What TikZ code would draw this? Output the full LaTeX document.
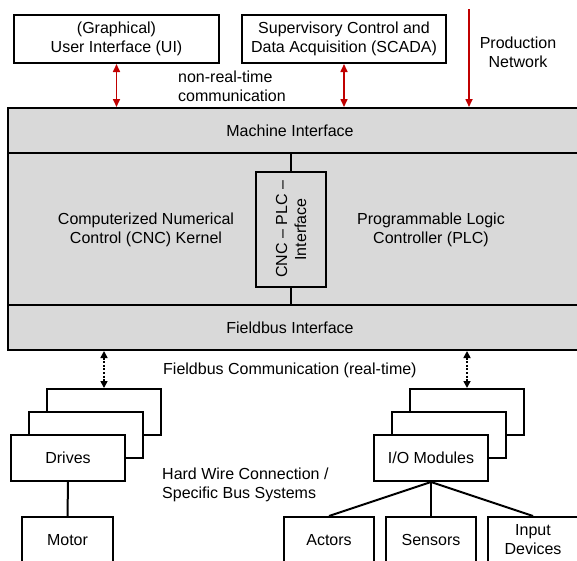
\documentclass[tikz,border=0pt]{standalone}
\usepackage{fontspec}
\setmainfont{Liberation Sans}
\usetikzlibrary{arrows.meta}
\definecolor{bandgray}{RGB}{217,217,217}
\definecolor{netred}{RGB}{192,0,0}
\begin{document}
\begin{tikzpicture}[x=1pt,y=-1pt,
  font=\fontsize{16}{19}\selectfont,
  redtip/.tip={Triangle[length=8pt,width=7pt]},
  bustip/.tip={Triangle[length=7pt,width=7pt]},
  box/.style={draw=black,line width=2pt,fill=white,inner sep=0pt,align=center},
  band/.style={draw=black,line width=2pt,fill=bandgray,inner sep=0pt},
  txt/.style={inner sep=0pt,align=center},
  redlink/.style={draw=netred,line width=1.6pt},
  buslink/.style={draw=black,line width=1.6pt,dash pattern=on 2pt off 1.6pt,bustip-bustip},
  wire/.style={draw=black,line width=2pt},
  stackbox/.style={box,minimum width=114pt,minimum height=46pt},
  fieldbox/.style={box,minimum width=90pt,minimum height=46pt}
]
\useasboundingbox (0,0) rectangle (577,560);

% upper level systems
\node[box,minimum width=205pt,minimum height=48pt] (ui) at (116.5,39) {(Graphical)\\User Interface (UI)};
\node[box,minimum width=204pt,minimum height=48pt] (scada) at (344,39) {Supervisory Control and\\Data Acquisition (SCADA)};
\coordinate (netin) at (469,9);

% control unit
\node[band,minimum width=582pt,minimum height=45pt] (mi) at (299,130.5) {};
\node[band,minimum width=582pt,minimum height=152pt] (core) at (299,229) {};
\node[band,minimum width=582pt,minimum height=45pt] (fb) at (299,327.5) {};
\node[txt] (mitext) at (290,130.5) {Machine Interface};
\node[txt] (fbtext) at (290,327.5) {Fieldbus Interface};
\node[txt] (cnc) at (146,230) {Computerized Numerical\\Control (CNC) Kernel};
\node[txt] (plc) at (431,230) {Programmable Logic\\Controller (PLC)};
\node[box,fill=bandgray,minimum width=70pt,minimum height=115pt] (cpi) at (291,229.5) {};
\node[txt,rotate=90] (cpitext) at (cpi.center) {CNC – PLC –\\Interface};
\draw[wire] (cpi.north) -- (cpi.north |- mi.south);
\draw[wire] (cpi.south) -- (cpi.south |- fb.north);

% non-real-time links
\draw[redlink,redtip-redtip] (ui.south) -- (ui.south |- mi.north);
\draw[redlink,redtip-redtip] (scada.south) -- (scada.south |- mi.north);
\draw[redlink,-redtip] (netin) -- (netin |- mi.north);
\node[txt,align=left,anchor=west] (nrt) at (178,86) {non-real-time\\communication};
\node[txt] (prodnet) at (518,52.5) {Production\\Network};

% field devices
\node[stackbox] (drvback) at (104,412) {};
\node[stackbox] (drvmid) at (86,435) {};
\node[stackbox] (drives) at (68,458) {Drives};
\node[stackbox] (ioback) at (467,412) {};
\node[stackbox] (iomid) at (449,435) {};
\node[stackbox] (io) at (431,458) {I/O Modules};

\draw[buslink] (drvback.north |- fb.south) -- (drvback.north);
\draw[buslink] (ioback.north |- fb.south) -- (ioback.north);
\node[txt,anchor=west] (fbcomm) at (163,370) {Fieldbus Communication (real-time)};

\node[fieldbox,minimum width=91pt] (motor) at (67.5,540) {Motor};
\node[fieldbox] (actors) at (329,540) {Actors};
\node[fieldbox] (sensors) at (431,540) {Sensors};
\node[fieldbox] (input) at (533,540) {Input\\Devices};

\draw[wire] (drives.south) -- (motor.north);
\draw[wire] (io.south) -- (actors.north);
\draw[wire] (io.south) -- (sensors.north);
\draw[wire] (io.south) -- (input.north);
\node[txt,align=left,anchor=west] (hardwire) at (162,485) {Hard Wire Connection /\\Specific Bus Systems};
\end{tikzpicture}
\end{document}
